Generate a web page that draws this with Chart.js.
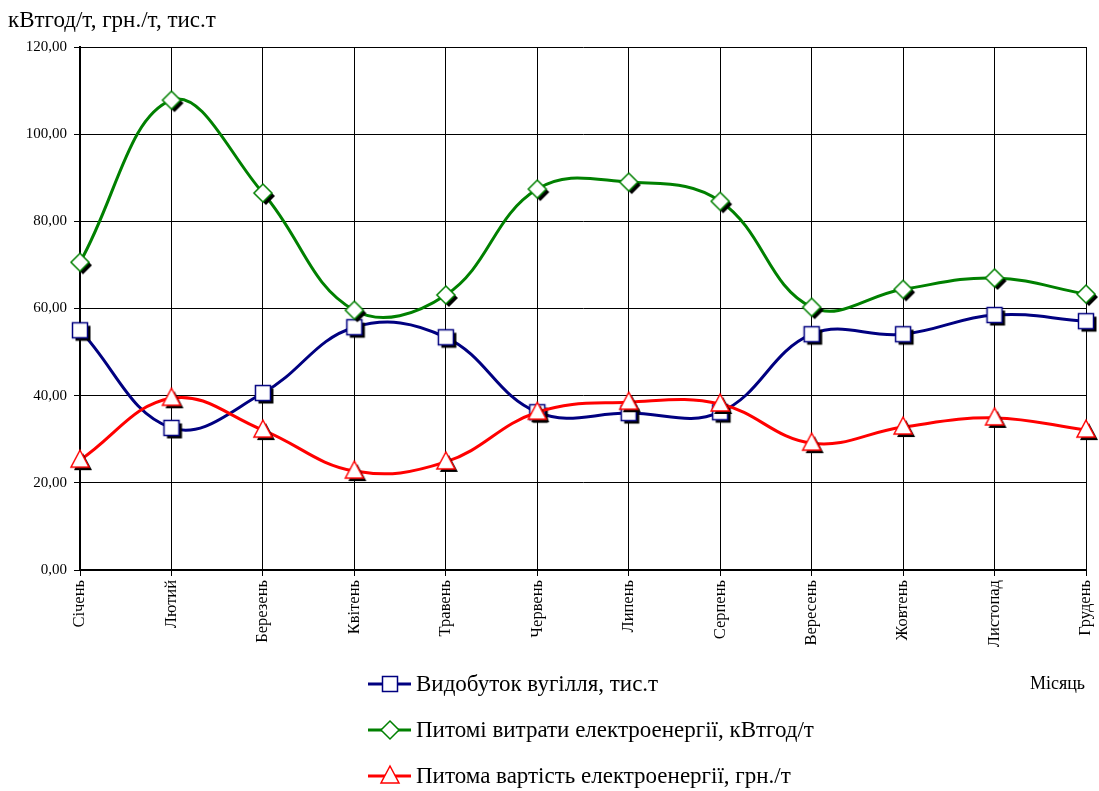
<!DOCTYPE html>
<html>
<head>
<meta charset="utf-8">
<script src="https://cdn.jsdelivr.net/npm/chart.js@4/dist/chart.umd.min.js"></script>
<style>
  html, body { margin: 0; padding: 0; background: #fff; }
  #wrap { width: 1099px; height: 791px; position: relative; }
</style>
</head>
<body>
<div id="wrap"><canvas id="chart" width="1099" height="791"></canvas></div>
<script>
// months on the x axis
const months = ["Січень", "Лютий", "Березень", "Квітень", "Травень", "Червень",
  "Липень", "Серпень", "Вересень", "Жовтень", "Листопад", "Грудень"];

// coal output, thousand t
const coalOutput = [55.0, 32.6, 40.6, 55.7, 53.4, 36.2, 36.0, 36.2, 54.1, 54.1, 58.5, 57.1];
// specific power consumption, kWh/t
const powerUse = [70.6, 107.8, 86.5, 59.6, 63.1, 87.4, 89.0, 84.6, 60.3, 64.4, 67.0, 63.3];
// specific power cost, UAH/t
const powerCost = [25.2, 39.4, 32.1, 22.7, 24.8, 36.2, 38.5, 38.1, 29.1, 32.8, 34.9, 32.1];

const seriesNames = [
  "Видобуток вугілля, тис.т",
  "Питомі витрати електроенергії, кВтгод/т",
  "Питома вартість електроенергії, грн./т"
];
const yTicks = [0, 20, 40, 60, 80, 100, 120];

const SERIF = "'Liberation Serif', 'Times New Roman', serif";
const BLUE = "#000080", GREEN = "#008000", RED = "#ff0000";

// draws one marker shape centred at (cx, cy)
function markerPath(ctx, kind, cx, cy) {
  ctx.beginPath();
  if (kind === "square") {
    ctx.rect(cx - 7.5, cy - 7.5, 15, 15);
  } else if (kind === "diamond") {
    ctx.moveTo(cx, cy - 9);
    ctx.lineTo(cx + 9, cy);
    ctx.lineTo(cx, cy + 9);
    ctx.lineTo(cx - 9, cy);
    ctx.closePath();
  } else {
    ctx.moveTo(cx, cy - 10);
    ctx.lineTo(cx + 9, cy + 7);
    ctx.lineTo(cx - 9, cy + 7);
    ctx.closePath();
  }
}

// marker image with the little black drop shadow
function makeMarker(kind, color, shadow) {
  const c = document.createElement("canvas");
  c.width = 32;
  c.height = 32;
  const ctx = c.getContext("2d");
  if (shadow) {
    markerPath(ctx, kind, 19, 19);
    ctx.fillStyle = "#000";
    ctx.fill();
  }
  markerPath(ctx, kind, 16, 16);
  ctx.fillStyle = "#fff";
  ctx.fill();
  ctx.lineWidth = 1.5;
  ctx.strokeStyle = color;
  ctx.stroke();
  return c;
}

const kinds = ["square", "diamond", "triangle"];
const colors = [BLUE, GREEN, RED];
const values = [coalOutput, powerUse, powerCost];

const datasets = values.map((v, i) => ({
  label: seriesNames[i],
  data: v,
  borderColor: colors[i],
  backgroundColor: colors[i],
  borderWidth: 3,
  tension: 0.4,
  pointStyle: makeMarker(kinds[i], colors[i], true),
  pointRadius: 9,
  pointHoverRadius: 9,
  clip: false,
  order: 3 - i
}));

// legend below the chart plus the two loose captions
const extraText = {
  id: "extraText",
  afterDraw(chart) {
    const ctx = chart.ctx;
    ctx.save();
    ctx.fillStyle = "#000";
    ctx.textBaseline = "middle";

    ctx.font = "23px " + SERIF;
    ctx.textAlign = "left";
    ctx.fillText("кВтгод/т, грн./т, тис.т", 8, 21);

    ctx.font = "18px " + SERIF;
    ctx.textAlign = "right";
    ctx.fillText("Місяць", 1085, 684);

    const rows = [684, 730, 776];
    ctx.textAlign = "left";
    ctx.font = "23px " + SERIF;
    rows.forEach((y, i) => {
      ctx.strokeStyle = colors[i];
      ctx.lineWidth = 3;
      ctx.beginPath();
      ctx.moveTo(368, y);
      ctx.lineTo(411, y);
      ctx.stroke();
      ctx.drawImage(makeMarker(kinds[i], colors[i], false), 390 - 16, y - 16);
      ctx.fillStyle = "#000";
      ctx.fillText(seriesNames[i], 416, y + 1);
    });
    ctx.restore();
  }
};

Chart.defaults.color = "#000";
Chart.defaults.font.family = SERIF;

new Chart(document.getElementById("chart"), {
  type: "line",
  data: { labels: months, datasets: datasets },
  options: {
    responsive: false,
    animation: false,
    layout: { padding: { top: 47, right: 13, left: 0, bottom: 0 } },
    plugins: {
      legend: { display: false },
      tooltip: { enabled: false }
    },
    scales: {
      x: {
        offset: false,
        grid: { color: "#000", lineWidth: 1, tickLength: 6 },
        border: { color: "#000", width: 2 },
        ticks: { maxRotation: 90, minRotation: 90, font: { size: 16.5 }, padding: 4, autoSkip: false },
        afterFit: (scale) => {
          scale.height = 221;
          scale.paddingRight = 0;
          scale.paddingLeft = 0;
        }
      },
      y: {
        min: 0,
        max: 120,
        afterBuildTicks: (scale) => { scale.ticks = yTicks.map((v) => ({ value: v })); },
        grid: { color: "#000", lineWidth: 1, tickLength: 6 },
        border: { color: "#000", width: 2 },
        ticks: {
          font: { size: 15 },
          padding: 7,
          callback: (v) => v.toFixed(2).replace(".", ",")
        },
        afterFit: (scale) => { scale.width = 80; }
      }
    }
  },
  plugins: [extraText]
});
</script>
</body>
</html>
